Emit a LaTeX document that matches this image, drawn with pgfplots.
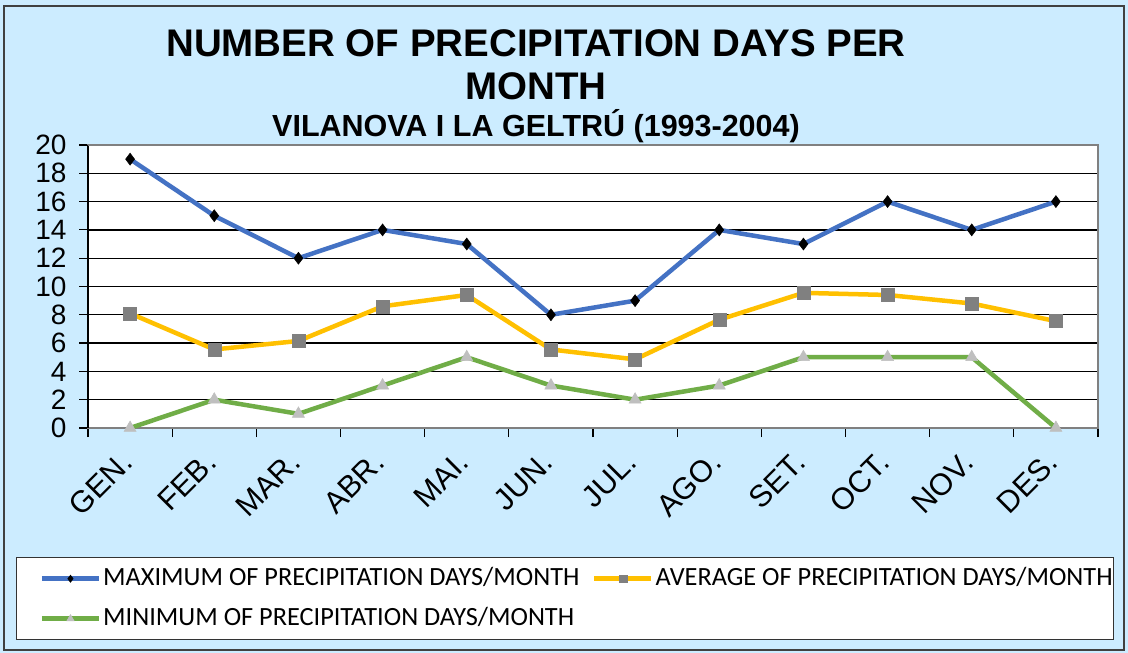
\documentclass[border=0pt]{standalone}
\usepackage{fontspec}
\setmainfont{Liberation Sans}
\newfontfamily\legfont{Carlito}
\usepackage{pgfplots}
\pgfplotsset{compat=1.18}
\definecolor{bgblue}{RGB}{204,236,255}
\definecolor{cblue}{RGB}{68,114,196}
\definecolor{corange}{RGB}{255,192,0}
\definecolor{cgreen}{RGB}{112,173,71}
\definecolor{mgray}{RGB}{128,128,128}
\definecolor{lgray}{RGB}{191,191,191}
\begin{document}
\begin{tikzpicture}[x=1pt,y=1pt]
\fill[bgblue] (0,0) rectangle (1128,653);
\draw[line width=1.5pt, black!75] (4,3) rectangle (1124,647);
\node[font=\fontsize{38.5}{40}\selectfont\bfseries, anchor=base, inner sep=0pt] at (536,596) {NUMBER OF PRECIPITATION DAYS PER};
\node[font=\fontsize{38.5}{40}\selectfont\bfseries, anchor=base, inner sep=0pt] at (536,553) {MONTH};
\node[font=\fontsize{30.5}{32}\selectfont\bfseries, anchor=base, inner sep=0pt] at (536,516) {VILANOVA I LA GELTRÚ (1993-2004)};
\begin{axis}[
  at={(88pt,225pt)}, anchor=south west, scale only axis,
  width=1010pt, height=283pt,
  xmin=-0.5, xmax=11.5, ymin=0, ymax=20,
  ytick={0,2,...,20},
  ymajorgrids, grid style={black, line width=1.3pt},
  xtick={-0.5,0.5,1.5,2.5,3.5,4.5,5.5,6.5,7.5,8.5,9.5,10.5,11.5},
  xticklabels={},
  extra x ticks={0,1,2,3,4,5,6,7,8,9,10,11},
  extra x tick labels={GEN.,FEB.,MAR.,ABR.,MAI.,JUN.,JUL.,AGO.,SET.,OCT.,NOV.,DES.},
  extra x tick style={major tick length=0pt, xticklabel style={xshift=-1pt, yshift=-27pt, rotate=45, anchor=east, font=\fontsize{30.5}{32}\selectfont}},
  tick align=outside, xtick pos=bottom, ytick pos=left,
  major tick length=9pt,
  tick style={black, line width=1.2pt},
  yticklabel style={font=\fontsize{28}{30}\selectfont, /pgf/number format/assume math mode=true, xshift=-9pt},
  axis background/.style={fill=white},
  axis line style={draw=gray, line width=1.5pt},
  clip=false,
  legend style={at={(-0.0713,-0.4558)}, anchor=north west, draw=black!80, line width=1.5pt, fill=white,
    font=\fontsize{26.3}{28}\selectfont\legfont, legend columns=2, inner xsep=0pt, inner ysep=8.5pt,
    nodes={inner xsep=2pt, inner ysep=2pt, text height=17pt, text depth=4pt},
    /tikz/every even column/.append style={column sep=-11pt}, row sep=15pt},
  legend cell align=left,
  legend image code/.code={\path (-23pt,0pt);\draw[mark repeat=2,mark phase=2,#1, every mark/.append style={scale=0.6}] plot coordinates {(0pt,0pt) (28.5pt,0pt) (57pt,0pt)};},
]
\draw[black, line width=1.2pt] (rel axis cs:0,1) -- (rel axis cs:0,0);
\draw[gray, line width=1.5pt] (rel axis cs:0,1) -- (rel axis cs:1,1) -- (rel axis cs:1,0);
\addplot[cblue, line width=4.5pt, mark=diamond*, mark size=6pt, mark options={fill=black, draw=black, line width=0.5pt}]
  coordinates {(0,19) (1,15) (2,12) (3,14) (4,13) (5,8) (6,9) (7,14) (8,13) (9,16) (10,14) (11,16)};
\addlegendentry{\makebox[475pt][l]{MAXIMUM OF PRECIPITATION DAYS/MONTH}}
\addplot[corange, line width=4.5pt, mark=square*, mark size=6.5pt, mark options={fill=mgray, draw=mgray, line width=0.5pt}]
  coordinates {(0,8.1) (1,5.55) (2,6.15) (3,8.6) (4,9.4) (5,5.55) (6,4.85) (7,7.65) (8,9.55) (9,9.4) (10,8.8) (11,7.55)};
\addlegendentry{\makebox[456pt][l]{AVERAGE OF PRECIPITATION DAYS/MONTH}}
\addplot[cgreen, line width=4.5pt, mark=triangle*, mark size=7pt, mark options={fill=lgray, draw=lgray, line width=0.5pt}]
  coordinates {(0,0) (1,2) (2,1) (3,3) (4,5) (5,3) (6,2) (7,3) (8,5) (9,5) (10,5) (11,0)};
\addlegendentry{\makebox[475pt][l]{MINIMUM OF PRECIPITATION DAYS/MONTH}}
\end{axis}
\end{tikzpicture}
\end{document}
